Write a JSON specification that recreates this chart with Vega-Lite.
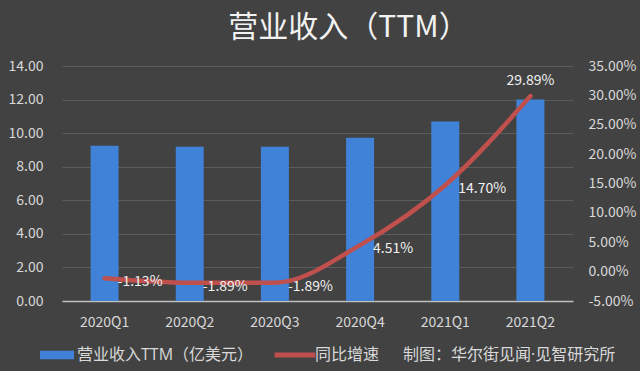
{
  "$schema": "https://vega.github.io/schema/vega-lite/v6.json",
  "autosize": {"type": "none"},
  "width": 511,
  "height": 235,
  "padding": {"left": 62, "top": 66, "right": 67, "bottom": 70},
  "background": "#424242",
  "config": {
    "view": {"stroke": null},
    "font": "Noto Sans CJK SC",
    "locale": {"number": {"decimal": ".", "thousands": ",", "grouping": [3], "currency": ["", ""], "minus": "-"}},
    "axis": {"labelFont": "Noto Sans CJK SC", "labelFontSize": 14, "labelColor": "#d9d9d9", "titleColor": "#d9d9d9", "labelOverlap": false}
  },
  "title": {
    "text": "营业收入（TTM）",
    "font": "Noto Sans CJK SC",
    "fontSize": 30,
    "fontWeight": "normal",
    "color": "#f2f2f2",
    "anchor": "middle",
    "baseline": "alphabetic",
    "offset": -8,
    "dx": 31
  },
  "data": {
    "values": [
      {"q": "2020Q1", "rev": 9.25, "g": -0.0113},
      {"q": "2020Q2", "rev": 9.19, "g": -0.0189},
      {"q": "2020Q3", "rev": 9.19, "g": -0.0189},
      {"q": "2020Q4", "rev": 9.73, "g": 0.0451},
      {"q": "2021Q1", "rev": 10.69, "g": 0.147},
      {"q": "2021Q2", "rev": 12.0, "g": 0.2989}
    ]
  },
  "encoding": {
    "x": {
      "field": "q", "type": "nominal", "sort": null, "title": null,
      "scale": {"paddingInner": 0, "paddingOuter": 0},
      "axis": {"labelAngle": 0, "ticks": false, "domainColor": "#bfbfbf", "domainWidth": 1.5, "labelPadding": 14, "grid": false}
    }
  },
  "layer": [
    {
      "mark": {
        "type": "bar",
        "size": 28,
        "color": {
          "gradient": "linear", "x1": 0, "y1": 0, "x2": 1, "y2": 0,
          "stops": [
            {"offset": 0, "color": "#2c64b8"},
            {"offset": 0.18, "color": "#3f86e0"},
            {"offset": 0.82, "color": "#3f86e0"},
            {"offset": 1, "color": "#2a5eac"}
          ]
        }
      },
      "encoding": {
        "y": {
          "field": "rev", "type": "quantitative", "title": null,
          "scale": {"domain": [0, 14], "nice": false},
          "axis": {"values": [0, 2, 4, 6, 8, 10, 12, 14], "format": ".2f", "domain": false, "ticks": false, "labelPadding": 19, "gridColor": "#5c5c5c", "gridWidth": 1}
        },
        "color": {
          "datum": "营业收入TTM（亿美元）",
          "type": "nominal",
          "scale": {"domain": ["营业收入TTM（亿美元）", "同比增速"], "range": ["#3f82d8", "#c0504d"]},
          "legend": {
            "title": null,
            "orient": "none",
            "direction": "horizontal",
            "legendX": -22,
            "legendY": 272,
            "padding": 0,
            "symbolSize": 1156,
            "symbolStrokeWidth": 0,
            "labelFont": "Open Sans, Noto Sans CJK SC",
            "labelFontSize": 16,
            "labelColor": "#d9d9d9",
            "labelOffset": 3,
            "columnPadding": 20,
            "labelLimit": 400,
            "labelExpr": "datum.label == '同比增速' ? '同比增速\u3000\u2002制图：华尔街见闻·见智研究所' : datum.label",
            "encode": {
              "symbols": {
                "update": {
                  "shape": {"signal": "datum.index === 0 ? 'M-1,-0.25H1V0.25H-1Z' : 'M-1.2,-0.14H1.2V0.14H-1.2Z'"},
                  "fill": {"signal": "datum.index === 0 ? '#3f82d8' : '#c0504d'"},
                  "stroke": {"value": "transparent"},
                  "opacity": {"value": 1}
                }
              }
            }
          }
        }
      }
    },
    {
      "encoding": {
        "y": {
          "field": "g", "type": "quantitative", "title": null,
          "scale": {"domain": [-0.05, 0.35], "nice": false},
          "axis": {"orient": "right", "values": [-0.05, 0, 0.05, 0.1, 0.15, 0.2, 0.25, 0.3, 0.35], "format": ".2%", "domain": false, "ticks": false, "grid": false, "labelPadding": 15, "labelOverlap": false}
        }
      },
      "layer": [
        {
          "mark": {"type": "line", "interpolate": "monotone", "strokeWidth": 4.5, "strokeCap": "round"},
          "encoding": {
            "color": {"datum": "同比增速", "type": "nominal"}
          }
        },
        {
          "transform": [{"filter": "datum.q != '2021Q2'"}],
          "mark": {"type": "text", "align": "left", "baseline": "middle", "dx": 13, "dy": 4, "fontSize": 14, "color": "#f0f0f0", "font": "Noto Sans CJK SC"},
          "encoding": {
            "text": {"field": "g", "type": "quantitative", "format": ".2%"}
          }
        },
        {
          "transform": [{"filter": "datum.q == '2021Q2'"}],
          "mark": {"type": "text", "align": "center", "baseline": "middle", "dy": -15, "fontSize": 14, "color": "#f0f0f0", "font": "Noto Sans CJK SC"},
          "encoding": {
            "text": {"field": "g", "type": "quantitative", "format": ".2%"}
          }
        }
      ]
    }
  ],
  "resolve": {"scale": {"y": "independent"}}
}
